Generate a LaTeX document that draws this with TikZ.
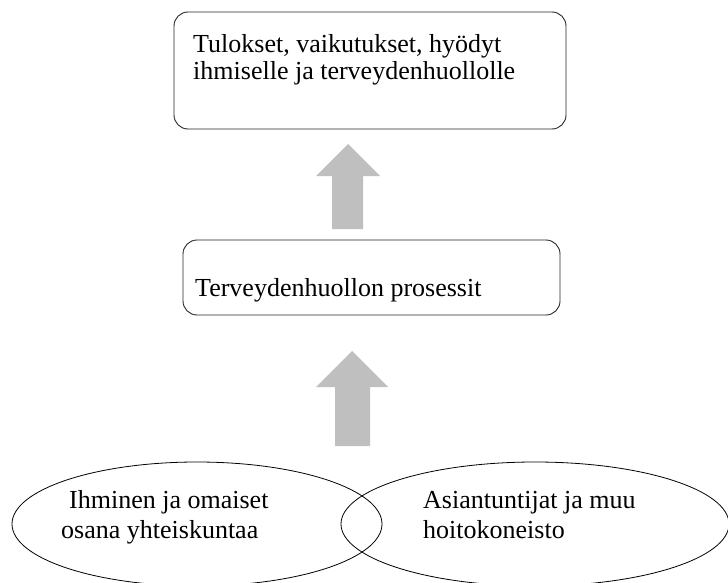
\documentclass[tikz,border=0pt]{standalone}
\usepackage{fontspec}
\setmainfont{Liberation Serif}
\usetikzlibrary{shapes.geometric}
\begin{document}
\begin{tikzpicture}[x=1pt,y=-1pt,
  box/.style={draw=black!85, line width=0.9pt, rounded corners=14pt},
  txt/.style={anchor=base west, inner sep=0pt, font=\fontsize{26}{27}\selectfont},
  blob/.style={draw=black, line width=0.8pt, ellipse, inner sep=0pt},
  bigarrow/.style={fill=black!25, draw=none}]
\useasboundingbox (0,0) rectangle (728,583);
% top box
\draw[box] (174,12) rectangle (566,129);
\node[txt] (t1) at (193,53) {Tulokset, vaikutukset, hyödyt};
\node[txt] (t2) at (193,80) {ihmiselle ja terveydenhuollolle};
% middle box
\draw[box] (183,240) rectangle (560,315);
\node[txt] (m1) at (195,296) {Terveydenhuollon prosessit};
% arrows
\fill[bigarrow] (348,144) -- (380,176) -- (363,176) -- (363,229) -- (332,229) -- (332,176) -- (316,176) -- cycle;
\fill[bigarrow] (352,351) -- (388,387) -- (370,387) -- (370,446) -- (335,446) -- (335,387) -- (316,387) -- cycle;
% ellipses
\node[blob, minimum width=370pt, minimum height=124pt] (left) at (197,524) {};
\node[blob, minimum width=388pt, minimum height=124pt] (right) at (535,524) {};
\node[txt] (l1) at (69,508) {Ihminen ja omaiset};
\node[txt] (l2) at (61,538) {osana yhteiskuntaa};
\node[txt] (r1) at (423,508) {Asiantuntijat ja muu};
\node[txt] (r2) at (423,538) {hoitokoneisto};
\end{tikzpicture}
\end{document}
